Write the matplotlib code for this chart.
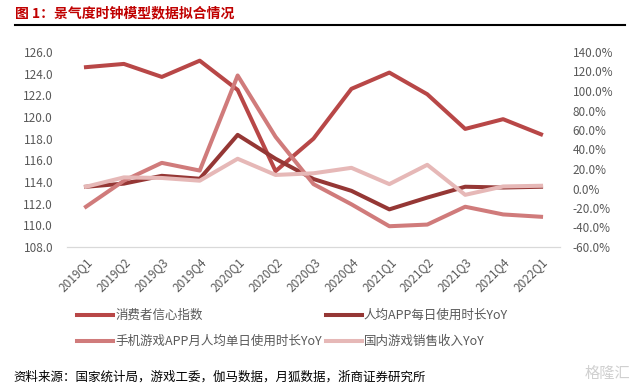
import matplotlib
matplotlib.use("Agg")
import matplotlib.pyplot as plt
from matplotlib.ticker import FuncFormatter

plt.rcParams["font.family"] = ["Noto Sans CJK SC", "DejaVu Sans"]

quarters = ["2019Q1", "2019Q2", "2019Q3", "2019Q4", "2020Q1", "2020Q2", "2020Q3",
            "2020Q4", "2021Q1", "2021Q2", "2021Q3", "2021Q4", "2022Q1"]
confidence = [124.6, 124.9, 123.7, 125.2, 122.5, 115.0, 118.0,
              122.6, 124.1, 122.1, 118.9, 119.8, 118.4]
app_daily_yoy = [1.8, 5.0, 13.0, 10.0, 55.0, 30.5, 9.7,
                 -2.4, -21.4, -9.3, 1.8, 1.0, 1.8]
game_app_yoy = [-18.7, 8.0, 26.3, 18.4, 115.9, 53.0, 4.5,
                -16.2, -38.7, -37.0, -18.7, -26.6, -29.0]
game_revenue_yoy = [1.8, 11.4, 10.8, 8.0, 30.5, 13.9, 15.6,
                    21.2, 4.5, 24.3, -6.5, 2.1, 2.8]

labels = ["消费者信心指数", "人均APP每日使用时长YoY",
          "手机游戏APP月人均单日使用时长YoY", "国内游戏销售收入YoY"]
colors = ["#B84747", "#953735", "#D07B7B", "#E6B8B7"]

fig = plt.figure(figsize=(6.43, 3.9), dpi=100)
ax = fig.add_axes([67 / 643, 1 - 247 / 390, 493 / 643, 195 / 390])
ax2 = ax.twinx()

x = list(range(len(quarters)))
lw = 2.9
h1, = ax.plot(x, confidence, color=colors[0], lw=lw, label=labels[0])
h2, = ax2.plot(x, app_daily_yoy, color=colors[1], lw=lw, label=labels[1])
h3, = ax2.plot(x, game_app_yoy, color=colors[2], lw=lw, label=labels[2])
h4, = ax2.plot(x, game_revenue_yoy, color=colors[3], lw=lw, label=labels[3])

ax.set_xlim(-0.5, len(quarters) - 0.5)
ax.set_ylim(108, 126)
ax.set_yticks([108 + 2 * i for i in range(10)])
ax.yaxis.set_major_formatter(FuncFormatter(lambda v, p: f"{v:.1f}"))
ax2.set_ylim(-60, 140)
ax2.set_yticks([-60 + 20 * i for i in range(11)])
ax2.yaxis.set_major_formatter(FuncFormatter(lambda v, p: f"{v:.1f}%"))

ax.set_xticks(x)
ax.set_xticklabels(quarters, rotation=45, ha="right", rotation_mode="anchor")

tick_color = "#595959"
for a in (ax, ax2):
    for s in ("top", "left", "right"):
        a.spines[s].set_visible(False)
    a.spines["bottom"].set_color("#D9D9D9")
    a.tick_params(length=0, labelsize=8.5, labelcolor=tick_color)
ax.tick_params(axis="y", pad=10)
ax2.tick_params(axis="y", pad=9)
ax.tick_params(axis="x", pad=6)

# row-major order: matplotlib fills legend columns first
leg = fig.legend(handles=[h1, h3, h2, h4], ncol=2, loc="upper left",
                 bbox_to_anchor=(77 / 643, 1 - 309 / 390), frameon=False,
                 fontsize=9, handlelength=2.9, handletextpad=0.15,
                 columnspacing=0.3, labelspacing=1.05,
                 borderpad=0, borderaxespad=0)
for t in leg.get_texts():
    t.set_color(tick_color)

fig.text(15 / 643, 1 - 13 / 390, "图 1：景气度时钟模型数据拟合情况", color="#C00000",
         fontsize=10, fontweight="bold", va="center", ha="left")
fig.add_artist(plt.Line2D([15 / 643, 625 / 643], [1 - 25 / 390, 1 - 25 / 390],
                          color="black", lw=1.5))
fig.text(13 / 643, 1 - 377 / 390,
         "资料来源：国家统计局，游戏工委，伽马数据，月狐数据，浙商证券研究所",
         color="black", fontsize=9, va="center", ha="left")
fig.text(630 / 643, 1 - 373 / 390, "格隆汇", color="#D0D0D0",
         fontsize=11, va="center", ha="right")

fig.savefig("out.png", dpi=100)
